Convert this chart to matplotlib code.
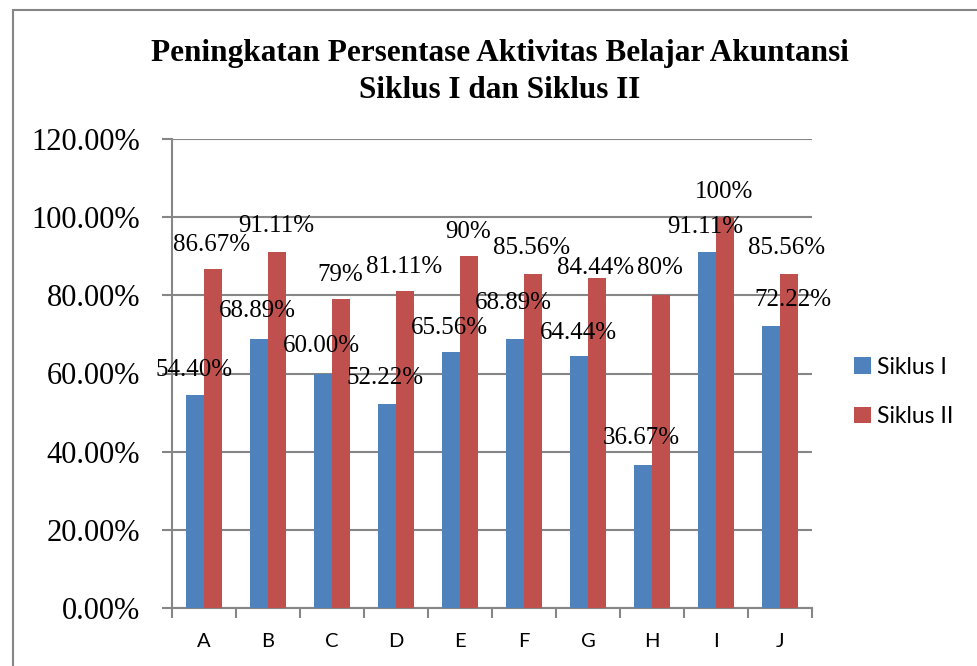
import numpy as np
import matplotlib
matplotlib.use("Agg")
import matplotlib.pyplot as plt
from matplotlib.patches import Rectangle

categories = ['A', 'B', 'C', 'D', 'E', 'F', 'G', 'H', 'I', 'J']
siklus1 = [54.40, 68.89, 60.00, 52.22, 65.56, 68.89, 64.44, 36.67, 91.11, 72.22]
siklus2 = [86.67, 91.11, 79.00, 81.11, 90.00, 85.56, 84.44, 80.00, 100.00, 85.56]
labels1 = ['54.40%', '68.89%', '60.00%', '52.22%', '65.56%', '68.89%', '64.44%', '36.67%', '91.11%', '72.22%']
labels2 = ['86.67%', '91.11%', '79%', '81.11%', '90%', '85.56%', '84.44%', '80%', '100%', '85.56%']

# hand-placed label offsets (pixels, from bar top)
off1 = [(-1, 25), (-2, 28), (-2, 28), (-2, 26), (-2, 24), (-2, 36), (-1, 23), (-2, 27), (-2, 25), (22, 26)]
off2 = [(-1, 24), (-1, 26), (-1, 24), (-1, 24), (-1, 24), (-1, 26), (-1, 10), (-1, 27), (-1, 25), (-2, 26)]

blue = '#4F81BD'
red = '#C0504D'
grey = '#868686'
serif = 'Liberation Serif'

fig = plt.figure(figsize=(9.77, 6.66), dpi=100)
ax = fig.add_axes([172/977, 58/666, 640/977, 469/666])

x = np.arange(len(categories))
w = 0.28
b1 = ax.bar(x - w/2, siklus1, w, color=blue, label='Siklus I', zorder=3)
b2 = ax.bar(x + w/2, siklus2, w, color=red, label='Siklus II', zorder=3)

for bars, labs, offs in [(b1, labels1, off1), (b2, labels2, off2)]:
    for rect, lab, (dx, dy) in zip(bars, labs, offs):
        ax.annotate(lab, (rect.get_x() + rect.get_width()/2, rect.get_height()),
                    xytext=(dx, dy), textcoords='offset pixels',
                    ha='center', va='center', fontsize=18, family=serif, zorder=5)

ax.set_xlim(-0.5, len(categories) - 0.5)
ax.set_ylim(0, 120)
ax.set_yticks(np.arange(0, 121, 20))
ax.set_yticklabels([f'{v:.2f}%' for v in np.arange(0, 121, 20)], family=serif, fontsize=22)
ax.set_xticks(x)
ax.set_xticklabels(categories, family='Lato', fontsize=14.5)
ax.set_xticks(np.arange(-0.5, len(categories)), minor=True)
ax.tick_params(axis='x', which='major', length=0, pad=18)
ax.tick_params(axis='x', which='minor', length=7, color=grey, width=1.5)
ax.tick_params(axis='y', length=7, color=grey, width=1.5, pad=16)

ax.grid(axis='y', color=grey, linewidth=1.5, zorder=0)
for s in ['top', 'right']:
    ax.spines[s].set_visible(False)
for s in ['left', 'bottom']:
    ax.spines[s].set_color(grey)
    ax.spines[s].set_linewidth(1.5)

fig.text(500/977, 1 - 53/666, 'Peningkatan Persentase Aktivitas Belajar Akuntansi',
         ha='center', va='center', fontsize=22.5, fontweight='bold', family=serif)
fig.text(500/977, 1 - 90/666, 'Siklus I dan Siklus II',
         ha='center', va='center', fontsize=22.5, fontweight='bold', family=serif)

leg = fig.legend(loc='center left', bbox_to_anchor=(854/977, 1 - 392/666), frameon=False,
                 prop={'family': 'Lato', 'size': 16.5}, handlelength=0.72, handleheight=0.72,
                 handletextpad=0.3, labelspacing=1.25, borderpad=0, borderaxespad=0)

fig.patches.append(Rectangle((13/977, -0.1), 1.2, 1 - 10/666 + 0.1, transform=fig.transFigure,
                             fill=False, edgecolor=grey, linewidth=1.5))

fig.savefig('out.png', dpi=100)
